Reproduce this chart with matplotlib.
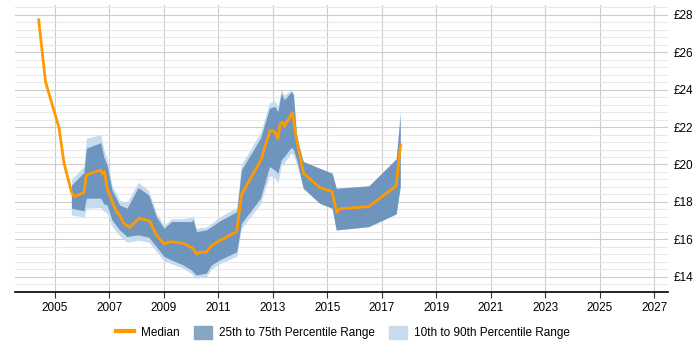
import matplotlib
matplotlib.use("Agg")
import matplotlib.pyplot as plt
from matplotlib.patches import Patch
from matplotlib.lines import Line2D
from matplotlib.ticker import MultipleLocator

plt.rcParams['font.family'] = ['Liberation Sans', 'DejaVu Sans']

# median series
med_years = [2004.41, 2004.66, 2005.16, 2005.34, 2005.61, 2005.71, 2006.07, 2006.16,
             2006.69, 2006.75, 2006.83, 2006.92, 2007.26, 2007.38, 2007.51, 2007.75,
             2008.09, 2008.48, 2008.73, 2009.01, 2009.28, 2009.71, 2010.07, 2010.20,
             2010.32, 2010.56, 2010.75, 2011.05, 2011.68, 2011.85, 2012.58, 2012.89,
             2013.07, 2013.19, 2013.28, 2013.37, 2013.43, 2013.72, 2013.86, 2014.13,
             2014.72, 2015.18, 2015.35, 2015.45, 2016.53, 2017.53, 2017.69]
median = [27.73, 24.43, 21.94, 20.07, 18.55, 18.28, 18.50, 19.44,
          19.71, 19.50, 19.62, 18.73, 17.48, 17.30, 16.89, 16.63,
          17.13, 16.98, 16.24, 15.75, 15.88, 15.79, 15.52, 15.22,
          15.31, 15.31, 15.65, 15.93, 16.41, 18.37, 20.28, 21.80,
          21.76, 21.37, 22.21, 22.26, 22.03, 22.78, 21.49, 19.53,
          18.77, 18.55, 17.43, 17.63, 17.75, 18.86, 21.05]

# percentile bands
band_years = [2005.61, 2006.07, 2006.16, 2006.69, 2006.80, 2006.92, 2007.10, 2007.38,
              2007.65, 2008.06, 2008.45, 2008.73, 2009.01, 2009.28, 2009.71, 2010.03,
              2010.07, 2010.20, 2010.56, 2010.75, 2011.05, 2011.68, 2011.85, 2012.55,
              2012.88, 2013.07, 2013.19, 2013.31, 2013.43, 2013.68, 2013.76, 2013.88,
              2014.12, 2014.72, 2015.18, 2015.33, 2016.53, 2017.53, 2017.68]
p90 = [19.2, 19.9, 21.4, 21.6, 20.8, 20.3, 18.9, 18.1,
       17.95, 19.05, 18.6, 17.4, 16.75, 17.1, 17.1, 17.2,
       17.25, 16.6, 16.65, 16.85, 17.2, 17.7, 20.0, 21.7,
       23.3, 23.4, 23.1, 24.0, 23.7, 24.0, 23.8, 21.6,
       20.16, 19.8, 19.53, 18.73, 18.86, 20.3, 23.0]
p75 = [18.9, 19.57, 20.87, 21.17, 20.4, 19.98, 18.64, 17.84,
       17.66, 18.77, 18.37, 17.21, 16.59, 16.95, 16.95, 16.95,
       17.1, 16.41, 16.5, 16.68, 16.98, 17.48, 19.71, 21.41,
       23.01, 23.10, 22.83, 23.81, 23.45, 23.9, 23.72, 21.41,
       20.16, 19.8, 19.53, 18.73, 18.86, 20.3, 22.6]
p25 = [17.66, 17.53, 18.2, 18.2, 17.9, 17.84, 17.04, 16.5,
       16.15, 16.24, 16.11, 15.61, 15.08, 14.9, 14.63, 14.35,
       14.27, 14.1, 14.19, 14.63, 14.9, 15.34, 16.86, 18.2,
       19.89, 19.71, 19.53, 20.25, 20.45, 20.92, 20.8, 20.25,
       18.73, 17.93, 17.66, 16.5, 16.68, 17.36, 18.82]
p10 = [17.3, 17.2, 17.66, 17.7, 17.5, 17.4, 16.7, 16.2,
       15.85, 15.95, 15.85, 15.35, 14.85, 14.7, 14.45, 14.15,
       14.05, 13.92, 14.0, 14.4, 14.7, 15.1, 16.59, 17.9,
       19.4, 19.3, 19.0, 19.9, 20.1, 20.6, 20.5, 20.0,
       18.73, 17.93, 17.66, 16.5, 16.68, 17.36, 18.82]

x_ticks = list(range(2005, 2028, 2))
y_ticks = list(range(14, 29, 2))

fig = plt.figure(figsize=(7, 3.5), dpi=100)
ax = fig.add_axes([0.021, 0.166, 0.933, 0.82])

light = '#c7dbee'
dark = '#6e95bd'
ax.fill_between(band_years, p10, p90, color=light, lw=0, zorder=2)
ax.fill_between(band_years, p25, p75, color=dark, lw=0, zorder=3)
ax.plot(med_years, median, color='#ff9900', lw=2, zorder=4)

ax.set_xlim(2003.53, 2027.5)
ax.set_ylim(13.19, 28.53)
ax.set_xticks(x_ticks)
ax.set_xticklabels([str(y) for y in x_ticks], fontsize=8.5)
ax.set_yticks(y_ticks)
ax.set_yticklabels(['£%d' % v for v in y_ticks], fontsize=8.5)
ax.yaxis.set_minor_locator(MultipleLocator(0.4))
ax.yaxis.tick_right()
ax.tick_params(axis='y', which='both', length=0, pad=4)
ax.tick_params(axis='x', length=4, color='#333333')

ax.grid(True, which='major', color='#cccccc', lw=0.8, zorder=0)
ax.grid(True, which='minor', axis='y', color='#e8e8e8', lw=0.8, zorder=0)
ax.set_axisbelow(True)
for s in ['top', 'left', 'right']:
    ax.spines[s].set_visible(False)
ax.spines['bottom'].set_color('black')
ax.spines['bottom'].set_linewidth(1.2)

handles = [Line2D([0], [0], color='#ff9900', lw=3),
           Patch(color='#87a6c6'),
           Patch(color=light)]
fig.legend(handles, ['Median', '25th to 75th Percentile Range', '10th to 90th Percentile Range'],
           loc='center', bbox_to_anchor=(0.49, 0.05), ncol=3, frameon=False, fontsize=8.5,
           handlelength=1.5, handleheight=1.3, columnspacing=1.2, handletextpad=0.6)

fig.savefig('out.png', dpi=100)
